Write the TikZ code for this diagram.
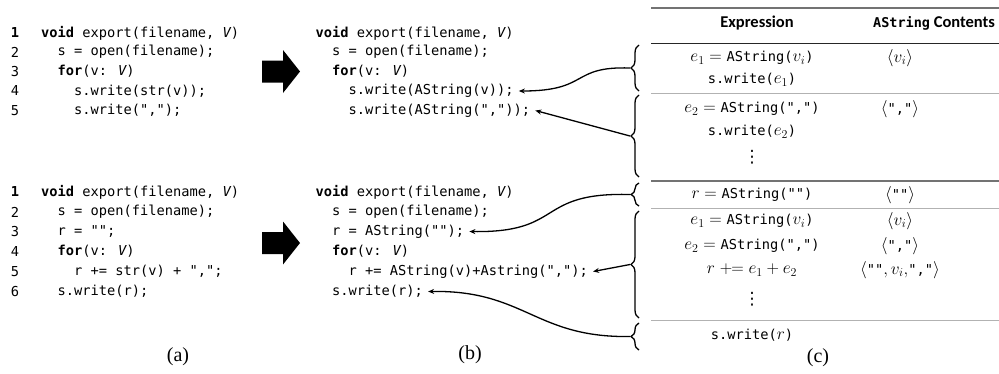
\documentclass[tikz,border=0pt]{standalone}
\usepackage{fontspec}
\setmainfont{Liberation Serif}
\newfontfamily\codefont{DejaVu Sans Mono}
\newfontfamily\hdrfont{Carlito}
\newfontfamily\symfont{DejaVu Sans}
\usetikzlibrary{decorations.pathreplacing,arrows.meta}
\newcommand\cdtxt[1]{{\codefont\fontsize{13.7}{16}\selectfont #1}}
\tikzset{
  codeln/.style={anchor=west, inner sep=0pt, font=\codefont\fontsize{13.7}{16}\selectfont},
  lnum/.style={anchor=center, inner sep=0pt, font=\codefont\fontsize{13.7}{16}\selectfont},
  cell/.style={anchor=center, inner sep=0pt, font=\fontsize{16.5}{19}\selectfont},
  dotsn/.style={anchor=center, inner sep=0pt, font=\symfont\fontsize{17}{19}\selectfont},
  hdr/.style={inner sep=0pt, font=\hdrfont\bfseries\fontsize{16.5}{20}\selectfont},
  captxt/.style={anchor=center, inner sep=0pt, font=\fontsize{20}{23}\selectfont},
  blockarrow/.style={fill=black},
  brc/.style={decorate, decoration={brace, amplitude=8pt}, line width=1.3pt},
  conn/.style={line width=1.3pt, -{Stealth[length=6pt,width=5pt]}},
  thickrule/.style={draw=black!55, line width=2pt},
  thinrule/.style={draw=black!30, line width=0.8pt},
  hdrrule/.style={draw=black!85, line width=1pt}
}
\begin{document}
\begin{tikzpicture}[x=1pt,y=-1pt]
\useasboundingbox (0,0) rectangle (999,373);
% ---------- (a) top ----------
\node[lnum] (an1) at (15,33) {\bfseries 1};
\node[lnum] (an2) at (15,52) {2};
\node[lnum] (an3) at (15,71.5) {3};
\node[lnum] (an4) at (15,91) {4};
\node[lnum] (an5) at (15,110.5) {5};
\node[codeln] (ta1) at (41,33) {\bfseries void\mdseries\ export(filename, \itshape V\upshape)};
\node[codeln] (ta2) at (57.5,52) {s = open(filename);};
\node[codeln] (ta3) at (57.5,71.5) {\bfseries for\mdseries(v: \itshape V\upshape)};
\node[codeln] (ta4) at (74,91) {s.write(str(v));};
\node[codeln] (ta5) at (74,110.5) {s.write(",");};
% ---------- (a) bottom ----------
\node[lnum] (bn1) at (15,192) {\bfseries 1};
\node[lnum] (bn2) at (15,212) {2};
\node[lnum] (bn3) at (15,231.5) {3};
\node[lnum] (bn4) at (15,251.5) {4};
\node[lnum] (bn5) at (15,271.5) {5};
\node[lnum] (bn6) at (15,291.5) {6};
\node[codeln] (ba1) at (41,192) {\bfseries void\mdseries\ export(filename, \itshape V\upshape)};
\node[codeln] (ba2) at (57.5,212) {s = open(filename);};
\node[codeln] (ba3) at (57.5,231.5) {r = "";};
\node[codeln] (ba4) at (57.5,251.5) {\bfseries for\mdseries(v: \itshape V\upshape)};
\node[codeln] (ba5) at (74,271.5) {r += str(v) + ",";};
\node[codeln] (ba6) at (57.5,291.5) {s.write(r);};
% ---------- block arrows ----------
\fill[blockarrow] (262,60.5) -- (283,60.5) -- (283,50) -- (300,71.5) -- (283,93) -- (283,82.5) -- (262,82.5) -- cycle;
\fill[blockarrow] (262,232) -- (283,232) -- (283,221.5) -- (300,243) -- (283,264.5) -- (283,254) -- (262,254) -- cycle;
% ---------- (b) top ----------
\node[codeln] (tb1) at (315.5,33) {\bfseries void\mdseries\ export(filename, \itshape V\upshape)};
\node[codeln] (tb2) at (332,52) {s = open(filename);};
\node[codeln] (tb3) at (332,71.5) {\bfseries for\mdseries(v: \itshape V\upshape)};
\node[codeln] (tb4) at (348.5,91) {s.write(AString(v));};
\node[codeln] (tb5) at (348.5,110.5) {s.write(AString(","));};
% ---------- (b) bottom ----------
\node[codeln] (bb1) at (315.5,192) {\bfseries void\mdseries\ export(filename, \itshape V\upshape)};
\node[codeln] (bb2) at (332,212) {s = open(filename);};
\node[codeln] (bb3) at (332,231.5) {r = AString("");};
\node[codeln] (bb4) at (332,251.5) {\bfseries for\mdseries(v: \itshape V\upshape)};
\node[codeln] (bb5) at (348.5,271.5) {r += AString(v)+Astring(",");};
\node[codeln] (bb6) at (332,291.5) {s.write(r);};
% ---------- table ----------
\draw[thickrule] (651,8) -- (999,8);
\node[hdr, anchor=center] (h1) at (757,23) {Expression};
\node[hdr, anchor=west] (h2) at (873,23) {{\codefont\bfseries\fontsize{13.5}{16}\selectfont AString} Contents};
\draw[hdrrule] (651,43) -- (999,43);
\node[cell] (r1a) at (752,58) {$e_1 = \mbox{\cdtxt{AString(}}v_i\mbox{\cdtxt{)}}$};
\node[cell] (r1b) at (900,58) {$\langle v_i\rangle$};
\node[cell] (r2a) at (752,80) {\cdtxt{s.write(}$e_1$\cdtxt{)}};
\draw[thinrule] (651,93) -- (999,93);
\node[cell] (r3a) at (752,109) {$e_2 = \mbox{\cdtxt{AString(",")}}$};
\node[cell] (r3b) at (900,109) {$\langle$\cdtxt{","}$\rangle$};
\node[cell] (r4a) at (752,132) {\cdtxt{s.write(}$e_2$\cdtxt{)}};
\node[dotsn] (d1) at (752,157) {⋮};
\draw[thickrule] (651,181) -- (999,181);
\node[cell] (r5a) at (752,195) {$r = \mbox{\cdtxt{AString("")}}$};
\node[cell] (r5b) at (900,195) {$\langle$\cdtxt{""}$\rangle$};
\draw[thinrule] (651,208) -- (999,208);
\node[cell] (r6a) at (752,221) {$e_1 = \mbox{\cdtxt{AString(}}v_i\mbox{\cdtxt{)}}$};
\node[cell] (r6b) at (900,221) {$\langle v_i\rangle$};
\node[cell] (r7a) at (752,246) {$e_2 = \mbox{\cdtxt{AString(",")}}$};
\node[cell] (r7b) at (900,246) {$\langle$\cdtxt{","}$\rangle$};
\node[cell] (r8a) at (752,270) {$r \mathrel{+\!\!=} e_1 + e_2$};
\node[cell] (r8b) at (900,270) {$\langle$\cdtxt{""}$,v_i,$\cdtxt{","}$\rangle$};
\node[dotsn] (d2) at (752,299) {⋮};
\draw[thinrule] (651,320) -- (999,320);
\node[cell] (r9a) at (752,335) {\cdtxt{s.write(}$r$\cdtxt{)}};
% ---------- braces ----------
\draw[brc] (639,91) -- (639,45);
\draw[brc] (639,177) -- (639,95);
\draw[brc] (639,206) -- (639,183);
\draw[brc] (639,318) -- (639,211);
\draw[brc] (639,350) -- (639,323);
\coordinate (k1) at (630,68);
\coordinate (k2) at (630,136);
\coordinate (k3) at (630,194.5);
\coordinate (k4) at (630,264.5);
\coordinate (k5) at (630,336.5);
% ---------- connectors ----------
\draw[conn] (k1) .. controls (570,66) and (590,91) .. ([xshift=5pt]tb4.east);
\draw[conn] (k2) -- ([xshift=5pt]tb5.east);
\draw[conn] (k3) .. controls (535,192) and (565,233) .. ([xshift=5pt]bb3.east);
\draw[conn] (k4) -- ([xshift=5pt]bb5.east);
\draw[conn] (k5) .. controls (535,338) and (525,290) .. ([xshift=5pt]bb6.east);
% ---------- captions ----------
\node[captxt] (ca) at (178,357) {(a)};
\node[captxt] (cb) at (470,355) {(b)};
\node[captxt] (cc) at (818,358) {(c)};
\end{tikzpicture}
\end{document}
